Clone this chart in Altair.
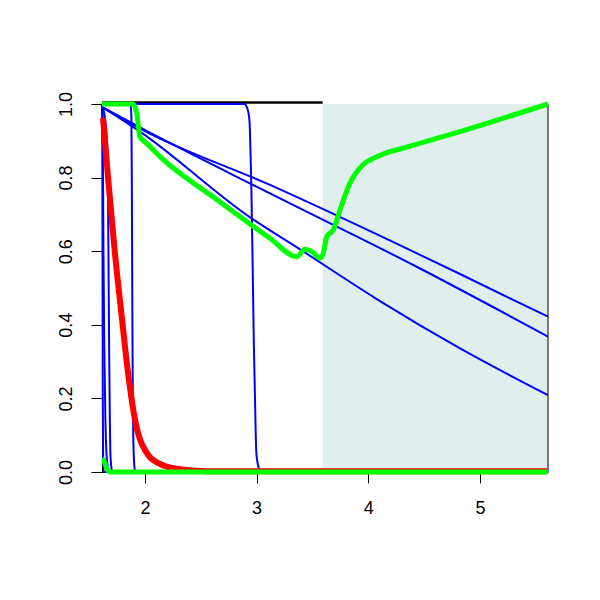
import altair as alt
import pandas as pd

# ---- axis ranges / ticks ----
x_min, x_max = 1.615, 5.61
x_ticks = [2, 3, 4, 5]
y_ticks = [0.0, 0.2, 0.4, 0.6, 0.8, 1.0]
shade_x = [3.592, 5.61]

# ---- blue curves ----
blue_a_x = [1.625, 1.982, 3.120, 4.822, 5.61]
blue_a_y = [0.99, 0.929, 0.780, 0.538, 0.422]

blue_b_x = [1.625, 2.045, 3.120, 4.464, 5.61]
blue_b_y = [0.99, 0.922, 0.757, 0.553, 0.368]

blue_c_x = [1.625, 1.955, 2.937, 3.389, 4.076, 4.822, 5.61]
blue_c_y = [0.99, 0.925, 0.693, 0.605, 0.470, 0.336, 0.209]

blue_d_x = [1.615, 2.89, 2.92, 2.937, 2.946, 2.953, 2.965, 2.975, 2.982, 2.998, 3.02, 3.04, 5.61]
blue_d_y = [1.0, 1.0, 0.985, 0.95, 0.86, 0.77, 0.55, 0.35, 0.25, 0.05, 0.01, 0.0, 0.0]

blue_e_x = [1.615, 1.87, 1.878, 1.882, 1.886, 1.89, 1.895, 1.902, 1.91, 1.92, 5.61]
blue_e_y = [1.0, 1.0, 0.97, 0.8, 0.5, 0.25, 0.1, 0.03, 0.005, 0.0, 0.0]

blue_f_x = [1.615, 1.618, 1.62, 1.622, 1.625, 1.63, 5.61]
blue_f_y = [1.0, 0.9, 0.5, 0.2, 0.05, 0.0, 0.0]

blue_g_x = [1.625, 1.66, 1.67, 1.675, 1.68, 1.685, 1.69, 1.70, 1.71, 5.61]
blue_g_y = [0.99, 0.9, 0.7, 0.5, 0.3, 0.15, 0.05, 0.01, 0.0, 0.0]

blue_h_x = [1.615, 1.62, 1.628, 1.635, 1.645, 1.655, 1.67, 1.68, 5.61]
blue_h_y = [1.0, 0.98, 0.6, 0.35, 0.15, 0.05, 0.01, 0.0, 0.0]

# ---- red curve ----
red_x = [1.624, 1.669, 1.729, 1.80, 1.84, 1.87, 1.90, 1.93, 1.96, 2.0, 2.045, 2.12, 2.18, 2.3, 2.4, 2.6, 5.61]
red_y = [0.962, 0.80, 0.60, 0.40, 0.29, 0.22, 0.16, 0.115, 0.085, 0.06, 0.04, 0.024, 0.016, 0.008, 0.005, 0.002, 0.002]

# ---- green curves ----
green_a_x = [1.615, 1.893, 1.926, 1.955, 2.015, 2.135, 2.672, 3.120, 3.359, 3.433, 3.50,
             3.568, 3.597, 3.628, 3.687, 3.747, 3.836, 3.953, 4.05, 4.15, 4.3, 4.822, 5.61]
green_a_y = [1.0, 1.0, 0.975, 0.911, 0.893, 0.857, 0.734, 0.635, 0.585, 0.605, 0.598,
             0.581, 0.595, 0.639, 0.658, 0.712, 0.785, 0.835, 0.853, 0.866, 0.879, 0.925, 1.0]

green_b_x = [1.616, 1.63, 1.645, 1.66, 1.675, 1.69, 5.61]
green_b_y = [0.035, 0.032, 0.02, 0.008, 0.002, 0.0, 0.0]

rows = []
def add(name, group, xs, ys):
    for i, (a, b) in enumerate(zip(xs, ys)):
        rows.append({"series": name, "group": group, "i": i, "x": a, "y": b})

add("ba", "blue", blue_a_x, blue_a_y)
add("bb", "blue", blue_b_x, blue_b_y)
add("bc", "blue", blue_c_x, blue_c_y)
add("bd", "blue", blue_d_x, blue_d_y)
add("be", "blue", blue_e_x, blue_e_y)
add("bf", "blue", blue_f_x, blue_f_y)
add("bg", "blue", blue_g_x, blue_g_y)
add("bh", "blue", blue_h_x, blue_h_y)
add("r", "red", red_x, red_y)
add("ga", "green", green_a_x, green_a_y)
add("gb", "green", green_b_x, green_b_y)
df = pd.DataFrame(rows)

FONT = "Liberation Sans"
xscale = alt.Scale(domain=[x_min, x_max], nice=False, zero=False)
yscale = alt.Scale(domain=[0, 1], nice=False, zero=False)
xaxis = alt.Axis(values=x_ticks, grid=False, tickSize=11, tickColor="black", tickWidth=1,
                 domainColor="black", domainWidth=1, labelFontSize=18, labelFont=FONT,
                 labelColor="black", labelPadding=16, title=None, labelFlush=False,
                 format="d")
yaxis = alt.Axis(values=y_ticks, grid=False, tickSize=11, tickColor="black", tickWidth=1,
                 domainColor="black", domainWidth=1, labelFontSize=18, labelFont=FONT,
                 labelColor="black", labelPadding=16, title=None, labelFlush=False,
                 format=".1f", labelAngle=270, labelAlign="center", labelBaseline="bottom")

shade_df = pd.DataFrame({"x0": [shade_x[0]], "x1": [shade_x[1]], "y0": [0.0], "y1": [1.0]})
shade = alt.Chart(shade_df).mark_rect(color="#E0EEEE").encode(
    x=alt.X("x0:Q", scale=xscale, axis=xaxis),
    x2="x1:Q",
    y=alt.Y("y0:Q", scale=yscale, axis=yaxis),
    y2="y1:Q",
)

one = pd.DataFrame({"a": [0]})
top_rule = alt.Chart(one).mark_rule(color="black", strokeWidth=2.5).encode(
    x=alt.datum(x_min), x2=alt.datum(shade_x[0]), y=alt.value(-1.5)
)
right_rule = alt.Chart(one).mark_rule(color="black", strokeWidth=1).encode(
    x=alt.datum(x_max), y=alt.datum(0.0), y2=alt.datum(1.0)
)

def lines(group, color, width):
    return alt.Chart(df).transform_filter(alt.datum.group == group).mark_line(
        color=color, strokeWidth=width, interpolate="monotone"
    ).encode(
        x=alt.X("x:Q", scale=xscale, axis=xaxis),
        y=alt.Y("y:Q", scale=yscale, axis=yaxis),
        detail="series:N",
        order="i:Q",
    )

chart = alt.layer(
    shade, top_rule, right_rule,
    lines("blue", "#0000FF", 2),
    lines("red", "#FF0000", 6),
    lines("green", "#00FF00", 5),
).properties(
    width=446, height=368, autosize="none",
    padding={"left": 94, "top": 96, "right": 40, "bottom": 80},
).configure_view(stroke=None)

chart.save("out.html", embed_options={"renderer": "svg", "actions": False})
